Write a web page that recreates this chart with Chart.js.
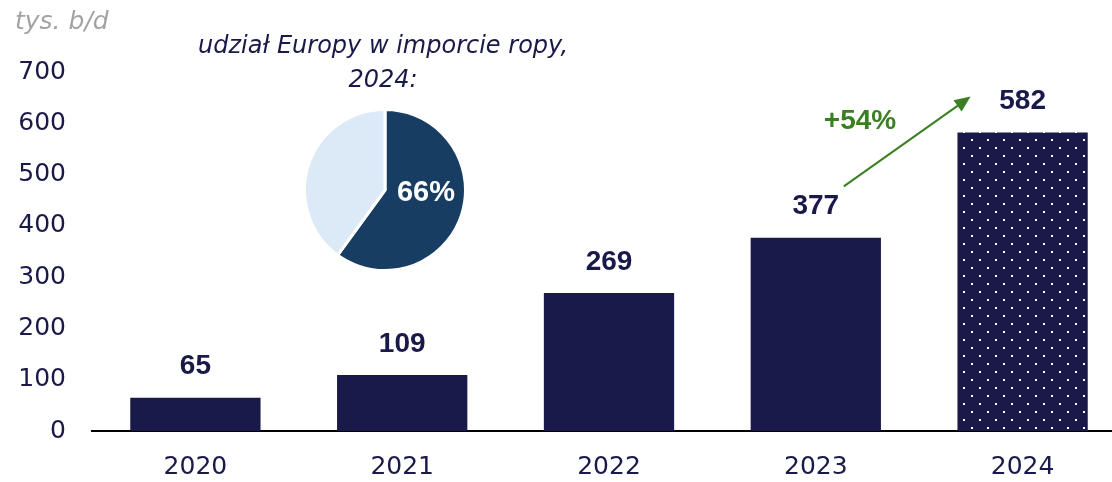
<!DOCTYPE html>
<html>
<head>
<meta charset="utf-8">
<script src="https://cdn.jsdelivr.net/npm/chart.js@4.4.1/dist/chart.umd.min.js"></script>
<style>
  html, body { margin: 0; padding: 0; background: #fff; overflow: hidden; }
  #wrap { position: relative; width: 1126px; height: 482px; }
  #pieWrap { position: absolute; left: 300px; top: 105px; width: 170px; height: 170px; }
</style>
</head>
<body>
<div id="wrap">
  <canvas id="bar-chart" width="1126" height="482"></canvas>
  <div id="pieWrap"><canvas id="pie-chart" width="170" height="170"></canvas></div>
</div>
<script>
const years = ['2020', '2021', '2022', '2023', '2024'];
const imports = [65, 109, 269, 377, 582];
const yTicks = [0, 100, 200, 300, 400, 500, 600, 700];
const pieLabels = ['Europa', 'Pozostałe'];
const pieShares = [60, 40];
const pieText = '66%';
const growthText = '+54%';

const navy = '#19194a';
const green = '#3b7f23';
const font = "'DejaVu Sans', sans-serif";
const boldFont = "'Liberation Sans', Arial, sans-serif";

// dotted fill for the last bar
function dotPattern() {
  const c = document.createElement('canvas');
  c.width = 16; c.height = 16;
  const g = c.getContext('2d');
  g.fillStyle = navy;
  g.fillRect(0, 0, 16, 16);
  g.fillStyle = '#ffffff';
  g.fillRect(3, 3, 2, 2);
  g.fillRect(11, 11, 2, 2);
  return g.createPattern(c, 'repeat');
}

const barColors = imports.map((v, i) => i === imports.length - 1 ? dotPattern() : navy);

const annotations = {
  id: 'annotations',
  afterDatasetsDraw(chart) {
    const ctx = chart.ctx;
    const x = chart.scales.x, y = chart.scales.y;
    ctx.save();
    // value labels
    ctx.fillStyle = navy;
    ctx.font = 'bold 28px ' + boldFont;
    ctx.textAlign = 'center';
    ctx.textBaseline = 'bottom';
    imports.forEach((v, i) => {
      ctx.fillText(String(v), x.getPixelForValue(i), y.getPixelForValue(v) - 17);
    });
    // unit label
    ctx.fillStyle = '#a3a3a3';
    ctx.font = 'oblique 25px ' + font;
    ctx.textAlign = 'left';
    ctx.textBaseline = 'middle';
    ctx.fillText('tys. b/d', 15, 22);
    // pie title
    ctx.fillStyle = navy;
    ctx.font = 'oblique 24px ' + font;
    ctx.textAlign = 'center';
    ctx.fillText('udział Europy w imporcie ropy,', 383, 47);
    ctx.fillText('2024:', 383, 81);
    // growth arrow
    const x0 = x.getPixelForValue(3) + 28, y0 = y.getPixelForValue(477);
    const x1 = x.getPixelForValue(4) - 52, y1 = y.getPixelForValue(652);
    const ang = Math.atan2(y1 - y0, x1 - x0);
    ctx.strokeStyle = green;
    ctx.fillStyle = green;
    ctx.lineWidth = 2;
    ctx.beginPath();
    ctx.moveTo(x0, y0);
    ctx.lineTo(x1 - 10 * Math.cos(ang), y1 - 10 * Math.sin(ang));
    ctx.stroke();
    ctx.beginPath();
    ctx.moveTo(x1, y1);
    ctx.lineTo(x1 - 16 * Math.cos(ang) + 7 * Math.sin(ang), y1 - 16 * Math.sin(ang) - 7 * Math.cos(ang));
    ctx.lineTo(x1 - 16 * Math.cos(ang) - 7 * Math.sin(ang), y1 - 16 * Math.sin(ang) + 7 * Math.cos(ang));
    ctx.closePath();
    ctx.fill();
    ctx.font = 'bold 28px ' + boldFont;
    ctx.textBaseline = 'middle';
    ctx.fillText(growthText, 860, 121);
    ctx.restore();
  }
};

new Chart(document.getElementById('bar-chart').getContext('2d'), {
  type: 'bar',
  data: {
    labels: years,
    datasets: [{
      label: 'Import',
      data: imports,
      backgroundColor: barColors,
      borderWidth: 0,
      barPercentage: 0.63,
      categoryPercentage: 1
    }]
  },
  options: {
    responsive: false,
    animation: false,
    layout: { padding: { top: 72, bottom: 2, left: 0, right: 0 } },
    plugins: { legend: { display: false }, tooltip: { enabled: false } },
    scales: {
      x: {
        afterFit: s => { s.height = 49; },
        grid: { display: false, drawTicks: false },
        border: { display: true, color: '#000', width: 2 },
        ticks: { color: navy, font: { family: font, size: 25 }, padding: 21 }
      },
      y: {
        min: 0,
        max: 700,
        afterFit: s => { s.width = 92; },
        afterBuildTicks: s => { s.ticks = yTicks.map(v => ({ value: v })); },
        grid: { display: false, drawTicks: false },
        border: { display: false },
        ticks: { color: navy, font: { family: font, size: 25 }, padding: 26 }
      }
    }
  },
  plugins: [annotations]
});

const pieLabel = {
  id: 'pieLabel',
  afterDatasetsDraw(chart) {
    const ctx = chart.ctx;
    ctx.save();
    ctx.fillStyle = '#ffffff';
    ctx.font = 'bold 29px ' + boldFont;
    ctx.textAlign = 'center';
    ctx.textBaseline = 'middle';
    ctx.fillText(pieText, 126, 88);
    ctx.restore();
  }
};

new Chart(document.getElementById('pie-chart').getContext('2d'), {
  type: 'pie',
  data: {
    labels: pieLabels,
    datasets: [{
      data: pieShares,
      backgroundColor: ['#173d63', '#dce9f6'],
      borderColor: '#ffffff',
      borderWidth: 3
    }]
  },
  options: {
    responsive: false,
    animation: false,
    layout: { padding: 3 },
    plugins: { legend: { display: false }, tooltip: { enabled: false } }
  },
  plugins: [pieLabel]
});
</script>
</body>
</html>
